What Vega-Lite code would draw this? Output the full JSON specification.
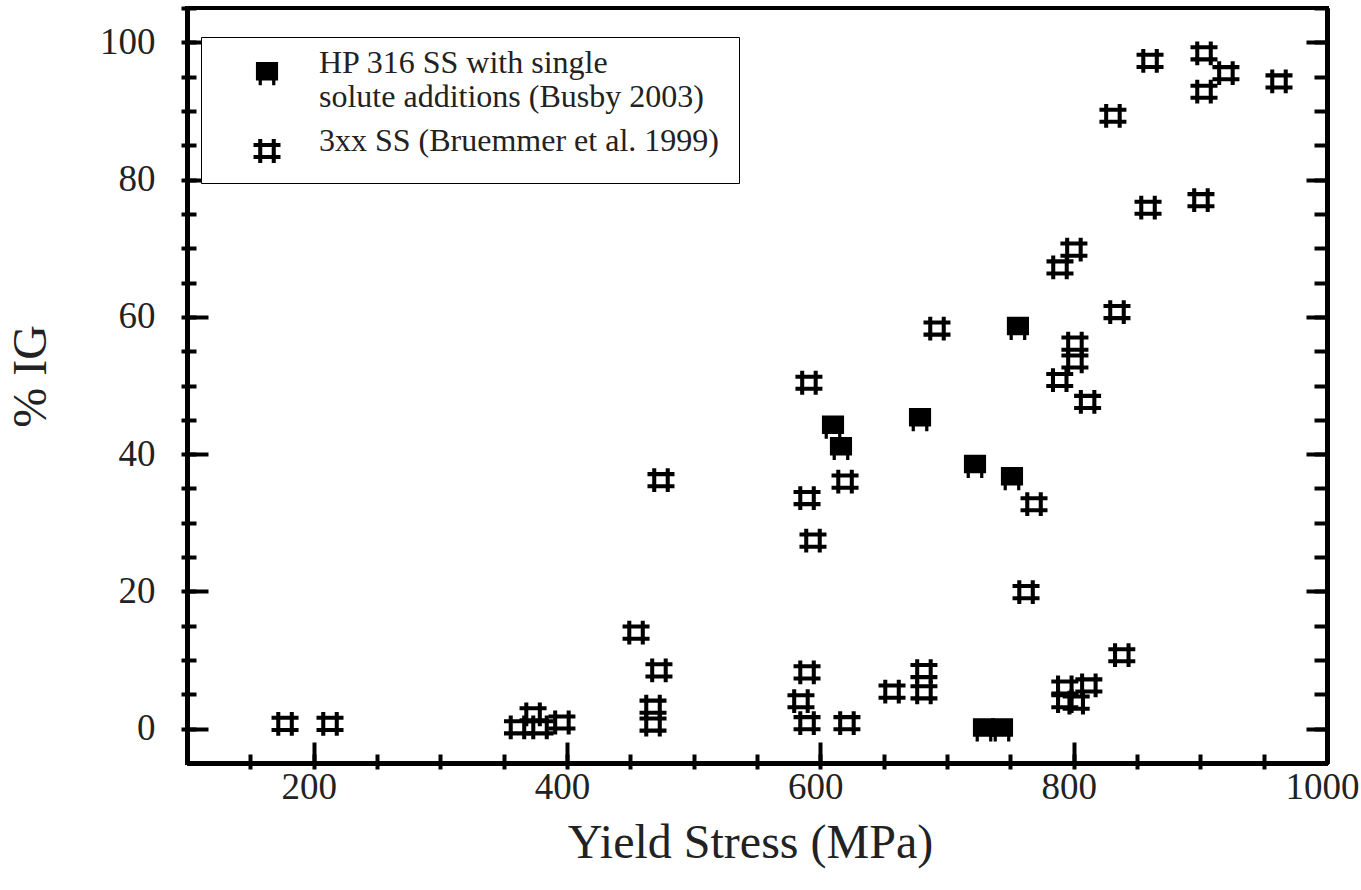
{
  "$schema": "https://vega.github.io/schema/vega-lite/v6.json",
  "width": 1140,
  "height": 755,
  "autosize": "none",
  "padding": {"left": 187, "top": 8, "right": 34, "bottom": 127},
  "background": "white",
  "config": {
    "view": {"stroke": "black", "strokeWidth": 4},
    "font": "Liberation Serif",
    "legend": {"strokeColor": "black", "fillColor": "white"},
    "axis": {
      "grid": false,
      "domainColor": "black",
      "domainWidth": 5,
      "tickColor": "black",
      "tickWidth": 4,
      "labelFont": "Liberation Serif",
      "labelColor": "#222",
      "labelFontSize": 37,
      "labelOverlap": false,
      "labelFlush": false,
      "titleFont": "Liberation Serif",
      "titleFontWeight": "normal",
      "titleColor": "#222",
      "titleFontSize": 48
    }
  },
  "data": {
    "values": [
      {"series": "3xx SS (Bruemmer et al. 1999)", "x": 177.4, "y": 0.7},
      {"series": "3xx SS (Bruemmer et al. 1999)", "x": 212.9, "y": 0.7},
      {"series": "3xx SS (Bruemmer et al. 1999)", "x": 360.9, "y": 0.2},
      {"series": "3xx SS (Bruemmer et al. 1999)", "x": 373.2, "y": 2.1},
      {"series": "3xx SS (Bruemmer et al. 1999)", "x": 378.7, "y": 0.2},
      {"series": "3xx SS (Bruemmer et al. 1999)", "x": 396.0, "y": 0.9},
      {"series": "3xx SS (Bruemmer et al. 1999)", "x": 467.9, "y": 3.2},
      {"series": "3xx SS (Bruemmer et al. 1999)", "x": 467.9, "y": 0.6},
      {"series": "3xx SS (Bruemmer et al. 1999)", "x": 472.6, "y": 8.5},
      {"series": "3xx SS (Bruemmer et al. 1999)", "x": 454.5, "y": 14.0},
      {"series": "3xx SS (Bruemmer et al. 1999)", "x": 474.2, "y": 36.2},
      {"series": "3xx SS (Bruemmer et al. 1999)", "x": 589.5, "y": 8.2},
      {"series": "3xx SS (Bruemmer et al. 1999)", "x": 584.7, "y": 4.0},
      {"series": "3xx SS (Bruemmer et al. 1999)", "x": 589.5, "y": 0.8},
      {"series": "3xx SS (Bruemmer et al. 1999)", "x": 621.0, "y": 0.8},
      {"series": "3xx SS (Bruemmer et al. 1999)", "x": 591.0, "y": 50.4},
      {"series": "3xx SS (Bruemmer et al. 1999)", "x": 589.5, "y": 33.6},
      {"series": "3xx SS (Bruemmer et al. 1999)", "x": 619.5, "y": 36.0},
      {"series": "3xx SS (Bruemmer et al. 1999)", "x": 594.2, "y": 27.4},
      {"series": "3xx SS (Bruemmer et al. 1999)", "x": 656.6, "y": 5.4},
      {"series": "3xx SS (Bruemmer et al. 1999)", "x": 681.8, "y": 8.4},
      {"series": "3xx SS (Bruemmer et al. 1999)", "x": 681.8, "y": 5.3},
      {"series": "3xx SS (Bruemmer et al. 1999)", "x": 692.1, "y": 58.3},
      {"series": "3xx SS (Bruemmer et al. 1999)", "x": 762.4, "y": 19.9},
      {"series": "3xx SS (Bruemmer et al. 1999)", "x": 768.7, "y": 32.7},
      {"series": "3xx SS (Bruemmer et al. 1999)", "x": 789.2, "y": 67.2},
      {"series": "3xx SS (Bruemmer et al. 1999)", "x": 800.2, "y": 69.8},
      {"series": "3xx SS (Bruemmer et al. 1999)", "x": 834.2, "y": 60.7},
      {"series": "3xx SS (Bruemmer et al. 1999)", "x": 858.7, "y": 75.9},
      {"series": "3xx SS (Bruemmer et al. 1999)", "x": 900.5, "y": 77.0},
      {"series": "3xx SS (Bruemmer et al. 1999)", "x": 860.3, "y": 97.3},
      {"series": "3xx SS (Bruemmer et al. 1999)", "x": 902.9, "y": 98.4},
      {"series": "3xx SS (Bruemmer et al. 1999)", "x": 920.2, "y": 95.5},
      {"series": "3xx SS (Bruemmer et al. 1999)", "x": 902.9, "y": 92.8},
      {"series": "3xx SS (Bruemmer et al. 1999)", "x": 962.1, "y": 94.3},
      {"series": "3xx SS (Bruemmer et al. 1999)", "x": 831.0, "y": 89.3},
      {"series": "3xx SS (Bruemmer et al. 1999)", "x": 789.0, "y": 50.8},
      {"series": "3xx SS (Bruemmer et al. 1999)", "x": 801.0, "y": 56.1},
      {"series": "3xx SS (Bruemmer et al. 1999)", "x": 801.0, "y": 53.5},
      {"series": "3xx SS (Bruemmer et al. 1999)", "x": 811.0, "y": 47.6},
      {"series": "3xx SS (Bruemmer et al. 1999)", "x": 793.0, "y": 6.0},
      {"series": "3xx SS (Bruemmer et al. 1999)", "x": 793.0, "y": 4.0},
      {"series": "3xx SS (Bruemmer et al. 1999)", "x": 802.0, "y": 3.8},
      {"series": "3xx SS (Bruemmer et al. 1999)", "x": 812.0, "y": 6.3},
      {"series": "3xx SS (Bruemmer et al. 1999)", "x": 838.0, "y": 10.7},
      {"series": "HP 316 SS with single solute additions (Busby 2003)", "x": 610.0, "y": 44.0},
      {"series": "HP 316 SS with single solute additions (Busby 2003)", "x": 616.3, "y": 40.9},
      {"series": "HP 316 SS with single solute additions (Busby 2003)", "x": 678.7, "y": 45.1},
      {"series": "HP 316 SS with single solute additions (Busby 2003)", "x": 722.1, "y": 38.3},
      {"series": "HP 316 SS with single solute additions (Busby 2003)", "x": 751.3, "y": 36.5},
      {"series": "HP 316 SS with single solute additions (Busby 2003)", "x": 756.0, "y": 58.4},
      {"series": "HP 316 SS with single solute additions (Busby 2003)", "x": 729.2, "y": -0.1},
      {"series": "HP 316 SS with single solute additions (Busby 2003)", "x": 743.4, "y": -0.1}
    ]
  },
  "encoding": {
    "shape": {
      "field": "series",
      "type": "nominal",
      "scale": {
        "domain": ["HP 316 SS with single solute additions (Busby 2003)", "3xx SS (Bruemmer et al. 1999)"],
        "range": [
          "M-0.82,-0.82H0.82V0.55H-0.82Z M-0.62,0.5H-0.38V0.9H-0.62Z M0.38,0.5H0.62V0.9H0.38Z",
          "M-1,-0.6H1V-0.3H-1Z M-1,0.3H1V0.6H-1Z M-0.65,-0.88H-0.35V0.88H-0.65Z M0.35,-0.88H0.65V0.88H0.35Z"
        ]
      },
      "legend": {
        "orient": "none",
        "legendX": 14,
        "legendY": 29,
        "title": null,
        "padding": 20,
        "symbolOffset": 30,
        "labelOffset": 36,
        "labelFont": "Liberation Serif",
        "labelFontSize": 32,
        "labelColor": "#222",
        "labelLimit": 700,
        "labelBaseline": "alphabetic",
        "rowPadding": 12,
        "symbolSize": 729,
        "symbolStrokeWidth": 0,
        "symbolFillColor": "black",
        "labelExpr": "indexof(datum.label, 'HP') == 0 ? ['HP 316 SS with single', 'solute additions (Busby 2003)'] : datum.label"
      }
    }
  },
  "layer": [
    {
      "transform": [{"filter": "datum.series == '3xx SS (Bruemmer et al. 1999)' && datum.x < 500"}],
      "mark": {"type": "point", "filled": true, "color": "black", "strokeWidth": 0, "size": 729, "opacity": 1},
      "encoding": {
        "x": {
          "field": "x", "type": "quantitative",
          "scale": {"domain": [100, 1000], "nice": false, "zero": false},
          "axis": {
            "orient": "bottom",
            "values": [200, 400, 600, 800, 1000],
            "format": "d",
            "tickSize": -21,
            "labelPadding": 27,
            "labelOffset": -5,
            "title": "Yield Stress (MPa)",
            "titleX": 563,
            "titleY": 94,
            "titleBaseline": "alphabetic",
            "titleAlign": "center"
          }
        },
        "y": {
          "field": "y", "type": "quantitative",
          "scale": {"domain": [-5, 105], "nice": false, "zero": false},
          "axis": {
            "orient": "left",
            "values": [0, 20, 40, 60, 80, 100],
            "format": "d",
            "tickSize": -21,
            "labelPadding": 53,
            "title": "% IG",
            "titleX": -156,
            "titleY": 368,
            "titleAngle": -90,
            "titleBaseline": "middle",
            "titleAlign": "center"
          }
        }
      }
    },
    {
      "transform": [{"filter": "datum.series == '3xx SS (Bruemmer et al. 1999)' && datum.x >= 500 && datum.x < 750"}],
      "mark": {"type": "point", "filled": true, "color": "black", "strokeWidth": 0, "size": 729, "opacity": 1},
      "encoding": {
        "x": {
          "field": "x", "type": "quantitative",
          "scale": {"domain": [100, 1000], "nice": false, "zero": false},
          "axis": {
            "orient": "bottom",
            "values": [100, 150, 200, 250, 300, 350, 400, 450, 500, 550, 600, 650, 700, 750, 800, 850, 900, 950, 1000],
            "tickSize": -9,
            "labels": false,
            "title": null
          }
        },
        "y": {
          "field": "y", "type": "quantitative",
          "scale": {"domain": [-5, 105], "nice": false, "zero": false},
          "axis": {
            "orient": "left",
            "values": [-5, 0, 5, 10, 15, 20, 25, 30, 35, 40, 45, 50, 55, 60, 65, 70, 75, 80, 85, 90, 95, 100, 105],
            "tickSize": -9,
            "labels": false,
            "title": null
          }
        }
      }
    },
    {
      "transform": [{"filter": "datum.series == '3xx SS (Bruemmer et al. 1999)' && datum.x >= 750"}],
      "mark": {"type": "point", "filled": true, "color": "black", "strokeWidth": 0, "size": 729, "opacity": 1},
      "encoding": {
        "x": {
          "field": "x", "type": "quantitative",
          "scale": {"domain": [100, 1000], "nice": false, "zero": false},
          "axis": {
            "orient": "bottom",
            "values": [150, 200, 250, 300, 350, 400, 450, 500, 550, 600, 650, 700, 750, 800, 850, 900, 950],
            "tickSize": 6,
            "labels": false,
            "title": null
          }
        },
        "y": {
          "field": "y", "type": "quantitative",
          "scale": {"domain": [-5, 105], "nice": false, "zero": false},
          "axis": {
            "orient": "left",
            "values": [0, 5, 10, 15, 20, 25, 30, 35, 40, 45, 50, 55, 60, 65, 70, 75, 80, 85, 90, 95, 100, 105],
            "tickSize": 6,
            "labels": false,
            "title": null
          }
        }
      }
    },
    {
      "transform": [{"filter": "datum.series != '3xx SS (Bruemmer et al. 1999)' && datum.x < 700"}],
      "mark": {"type": "point", "filled": true, "color": "black", "strokeWidth": 0, "size": 729, "opacity": 1},
      "encoding": {
        "x": {
          "field": "x", "type": "quantitative",
          "scale": {"domain": [100, 1000], "nice": false, "zero": false},
          "axis": null
        },
        "y": {
          "field": "y", "type": "quantitative",
          "scale": {"domain": [-5, 105], "nice": false, "zero": false},
          "axis": {
            "orient": "right",
            "values": [0, 20, 40, 60, 80, 100],
            "tickSize": -21,
            "labels": false,
            "title": null
          }
        }
      }
    },
    {
      "transform": [{"filter": "datum.series != '3xx SS (Bruemmer et al. 1999)' && datum.x >= 700"}],
      "mark": {"type": "point", "filled": true, "color": "black", "strokeWidth": 0, "size": 729, "opacity": 1},
      "encoding": {
        "x": {
          "field": "x", "type": "quantitative",
          "scale": {"domain": [100, 1000], "nice": false, "zero": false},
          "axis": null
        },
        "y": {
          "field": "y", "type": "quantitative",
          "scale": {"domain": [-5, 105], "nice": false, "zero": false},
          "axis": {
            "orient": "right",
            "values": [-5, 0, 5, 10, 15, 20, 25, 30, 35, 40, 45, 50, 55, 60, 65, 70, 75, 80, 85, 90, 95, 100, 105],
            "tickSize": -13,
            "labels": false,
            "title": null
          }
        }
      }
    }
  ],
  "resolve": {"axis": {"x": "independent", "y": "independent"}}
}
